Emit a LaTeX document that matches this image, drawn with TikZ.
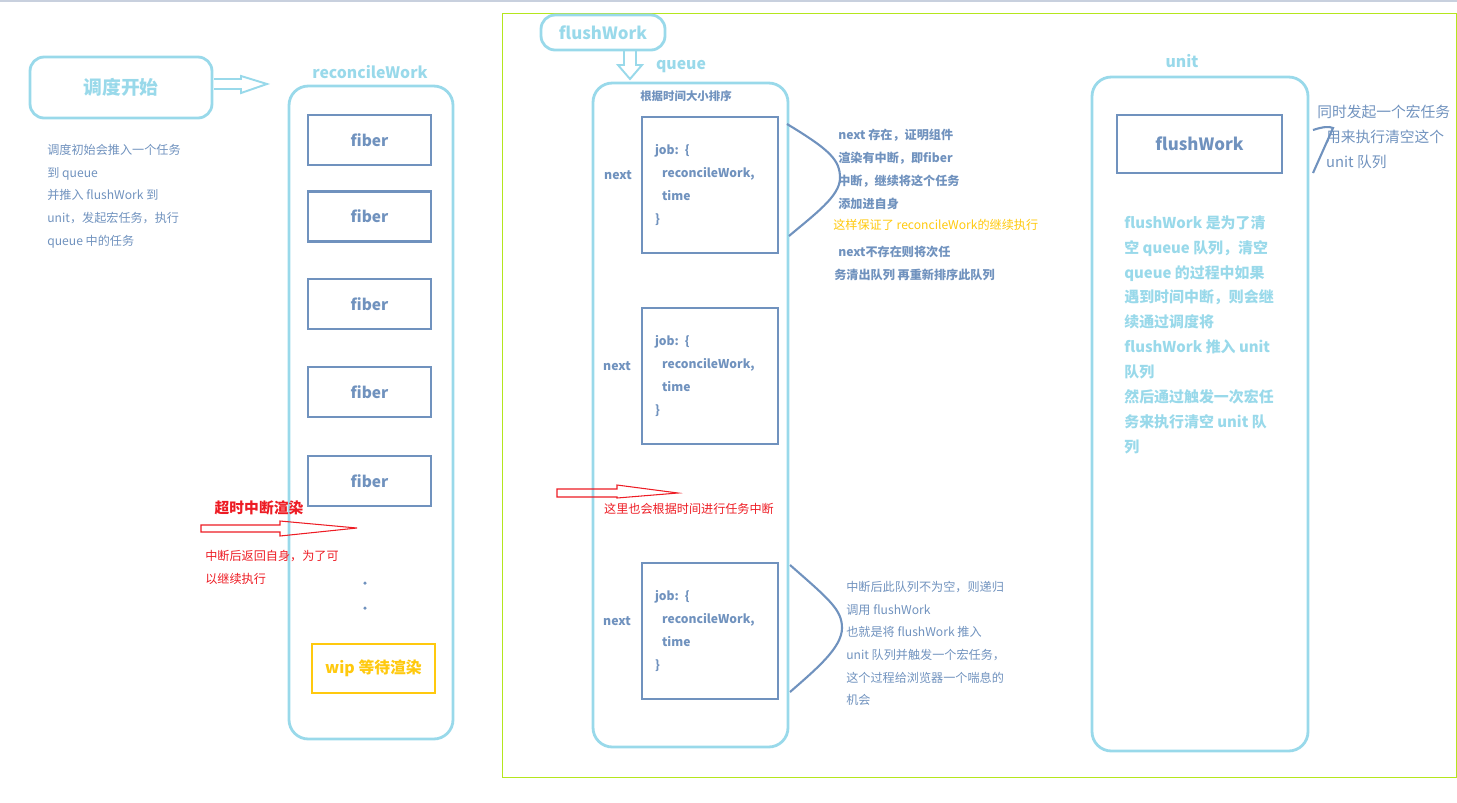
\documentclass[tikz,border=0pt]{standalone}
\usepackage{fontspec}
\setmainfont{Noto Sans CJK SC}
\usetikzlibrary{positioning}

\definecolor{skyline}{RGB}{153,217,234}
\definecolor{steel}{RGB}{112,146,190}
\definecolor{wipgold}{RGB}{255,201,14}
\definecolor{alarm}{RGB}{237,28,36}
\definecolor{framelime}{RGB}{181,230,29}
\definecolor{topgray}{RGB}{200,208,222}

\tikzset{
  lane/.style={draw=skyline, line width=1.6pt, rounded corners=11pt},
  pill/.style={draw=skyline, line width=1.6pt, rounded corners=8pt, text=skyline},
  fiberbox/.style={draw=steel, line width=1.6pt, minimum width=2.46cm, minimum height=1cm, text=steel, font=\bfseries\fontsize{8.8pt}{10pt}\selectfont},
  jobbox/.style={draw=steel, line width=1.6pt, minimum width=2.72cm, minimum height=2.72cm, text width=2.2cm, align=left, text=steel, font=\bfseries\fontsize{6.9pt}{13pt}\selectfont},
  lanetitle/.style={text=skyline, font=\bfseries\fontsize{9pt}{10pt}\selectfont},
  note/.style={text=steel, align=left, inner sep=0pt, font=\fontsize{6.9pt}{12.9pt}\selectfont},
  boldnote/.style={note, font=\bfseries\fontsize{6.9pt}{13pt}\selectfont},
  nextlabel/.style={text=steel, font=\bfseries\fontsize{7pt}{8pt}\selectfont},
  hollow/.style={draw=skyline, line width=1.1pt},
  redarrow/.style={draw=alarm, line width=0.6pt},
  bracecurve/.style={draw=steel, line width=1.2pt},
}

\begin{document}
\begin{tikzpicture}[x=0.02cm,y=-0.02cm]
\useasboundingbox (0,0) rectangle (1457,802);

\draw [topgray, line width=1.2pt] (0,1) -- (1457,1);
\draw [framelime, line width=0.45pt] (502,13) rectangle (1456,777);

\node [pill, minimum width=3.64cm, minimum height=1.22cm, font=\bfseries\fontsize{10.7pt}{12pt}\selectfont] (start) at (121,87.5) {调度开始};
\draw [hollow] (214,79) -- (241,79) -- (241,76) -- (267,84) -- (241,93) -- (241,89) -- (214,89);

\node [note, anchor=north west] (initnote) at (47,144) {调度初始会推入一个任务\\到 queue\\并推入 flushWork 到\\unit，发起宏任务，执行\\queue 中的任务};

\node [lanetitle] (rwtitle) at (370,72) {reconcileWork};
\draw [lane] (289,86) rectangle (453,739);
\node [fiberbox] (fiber1) at (369.5,140) {fiber};
\node [fiberbox] (fiber2) at (369.5,216.5) {fiber};
\node [fiberbox] (fiber3) at (369.5,304) {fiber};
\node [fiberbox] (fiber4) at (369.5,392) {fiber};
\node [fiberbox] (fiber5) at (369.5,481) {fiber};
\fill [steel] (365,583) circle (1pt);
\fill [steel] (365,608) circle (1pt);
\node [draw=wipgold, line width=1.6pt, minimum width=2.46cm, minimum height=0.98cm, text=wipgold, font=\bfseries\fontsize{9pt}{10pt}\selectfont] (wip) at (373.5,668.5) {wip 等待渲染};

\node [text=alarm, font=\bfseries\fontsize{8.4pt}{10pt}\selectfont] (timeout) at (259,508) {超时中断渲染};
\draw [redarrow] (201,525) -- (280,525) -- (280,521) -- (357,528) -- (280,536) -- (280,532) -- (201,532) -- cycle;
\node [note, text=alarm, anchor=north west] (backnote) at (205,550) {中断后返回自身，为了可\\以继续执行};

\node [pill, minimum width=2.48cm, minimum height=0.7cm, font=\bfseries\fontsize{9.6pt}{11pt}\selectfont] (flush) at (603,32.5) {flushWork};
\draw [hollow] (624,50) -- (624,65) -- (618,65) -- (630,79) -- (642,65) -- (636,65) -- (636,50);

\node [lanetitle] (qtitle) at (681,67) {queue};
\draw [lane] (593,83) rectangle (788,747);
\node [text=steel, font=\bfseries\fontsize{6.5pt}{8pt}\selectfont] (sortnote) at (686,96) {根据时间大小排序};

\node [jobbox] (job1) at (710,185) {job: \{\\\hspace*{4pt}reconcileWork,\\\hspace*{4pt}time\\\}};
\node [jobbox] (job2) at (710,376) {job: \{\\\hspace*{4pt}reconcileWork,\\\hspace*{4pt}time\\\}};
\node [jobbox] (job3) at (710,631) {job: \{\\\hspace*{4pt}reconcileWork,\\\hspace*{4pt}time\\\}};
\node [nextlabel] (next1) at (618,175) {next};
\node [nextlabel] (next2) at (617,366) {next};
\node [nextlabel] (next3) at (617,621) {next};

\draw [bracecurve] (787,124) .. controls (830,150) and (840,160) .. (840,178) .. controls (840,196) and (815,214) .. (789,236);
\node [boldnote, anchor=north west] (nextnote) at (838,129) {next 存在，证明组件\\渲染有中断，即fiber\\中断，继续将这个任务\\添加进自身};
\node [note, text=wipgold, anchor=west] (keepnote) at (833,225) {这样保证了 reconcileWork的继续执行};
\node [boldnote, anchor=north west] (nonext1) at (838,246) {next不存在则将次任};
\node [boldnote, anchor=north west] (nonext2) at (834,269) {务清出队列 再重新排序此队列};

\draw [redarrow] (557,489) -- (617,489) -- (617,485) -- (678,493) -- (617,498) -- (617,497) -- (557,497) -- cycle;
\node [note, text=alarm] (cutnote) at (689,509) {这里也会根据时间进行任务中断};

\draw [bracecurve] (790,565) .. controls (830,600) and (842,610) .. (842,628) .. controls (842,648) and (815,670) .. (790,692);
\node [note, anchor=north west] (recnote) at (846,581) {中断后此队列不为空，则递归\\调用 flushWork\\也就是将 flushWork 推入\\unit 队列并触发一个宏任务，\\这个过程给浏览器一个喘息的\\机会};

\node [lanetitle] (utitle) at (1182,61) {unit};
\draw [lane] (1092,77) rectangle (1308,751);
\node [draw=steel, line width=1.6pt, minimum width=3.3cm, minimum height=1.16cm, text=steel, font=\bfseries\fontsize{9.6pt}{11pt}\selectfont] (uflush) at (1199.5,144) {flushWork};
\node [note, text=skyline, anchor=north west, font=\bfseries\fontsize{8.5pt}{14.2pt}\selectfont] (unitnote) at (1124,215) {flushWork 是为了清\\空 queue 队列，清空\\queue 的过程中如果\\遇到时间中断，则会继\\续通过调度将\\flushWork 推入 unit\\队列\\然后通过触发一次宏任\\务来执行清空 unit 队\\列};

\draw [bracecurve] (1313,130) .. controls (1322,127) and (1329,126) .. (1333,128) -- (1313,173);
\node [note, anchor=north west, font=\fontsize{8.4pt}{14.2pt}\selectfont] (macronote) at (1317,105) {同时发起一个宏任务\\\hspace*{5pt}用来执行清空这个\\\hspace*{5pt}unit 队列};
\end{tikzpicture}
\end{document}
